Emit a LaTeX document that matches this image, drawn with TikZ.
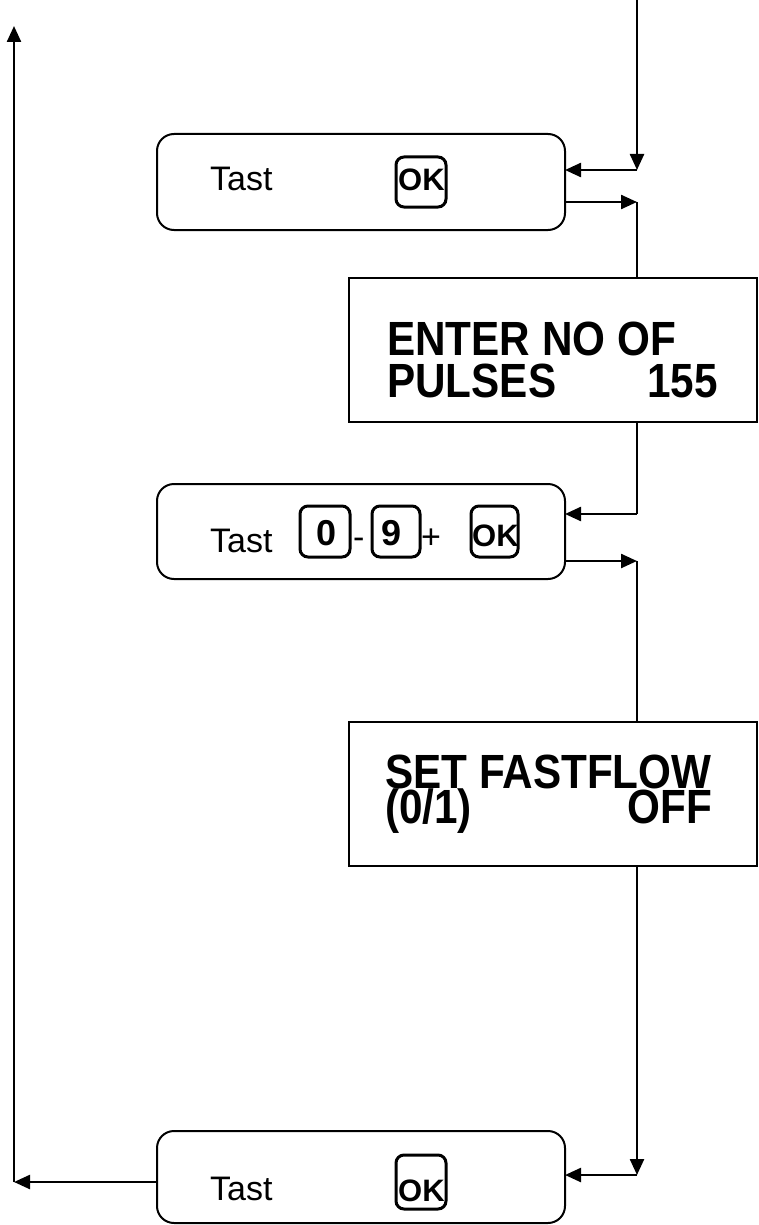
\documentclass[tikz,border=0pt]{standalone}
\usepackage{fontspec}
\setmainfont{Liberation Sans}
\newfontfamily\bigfont[FakeStretch=0.88]{Liberation Sans Bold}
\usetikzlibrary{arrows.meta}
\begin{document}
\begin{tikzpicture}[x=1pt,y=-1pt,
  tastbox/.style={draw, line width=2pt, rounded corners=17pt, minimum width=408pt, inner sep=0pt, outer sep=0pt},
  dispbox/.style={draw, line width=2pt, minimum width=408pt, minimum height=144pt, inner sep=0pt, outer sep=0pt},
  keybox/.style={draw, line width=3pt, rounded corners=8pt, inner sep=0pt, outer sep=0pt},
  tast/.style={font=\fontsize{34}{40}\selectfont, anchor=base west, inner sep=0pt},
  keytxt/.style={font=\fontsize{31}{36}\selectfont\bfseries, anchor=base west, inner sep=0pt},
  digit/.style={font=\fontsize{36}{40}\selectfont\bfseries, anchor=base, inner sep=0pt},
  big/.style={font=\bigfont\fontsize{48}{56}\selectfont, inner sep=0pt},
  conn/.style={line width=2.4pt},
  arr/.style={conn, -{Triangle[length=16pt,width=14pt]}}
]
\useasboundingbox (0,0) rectangle (758,1225);

% boxes
\node[tastbox, minimum height=96pt] (b1) at (361,182) {};
\node[dispbox] (enter) at (553,350) {};
\node[tastbox, minimum height=95pt] (b2) at (361,531.5) {};
\node[dispbox] (set) at (553,794) {};
\node[tastbox, minimum height=92pt] (b3) at (361,1177) {};

% box 1 contents
\node[tast] (t1) at (210,190) {Tast};
\node[keybox, minimum width=50pt, minimum height=50pt] (k1) at (421,182) {};
\node[keytxt] (o1) at (398,190) {OK};

% display 1
\node[big, anchor=base west] (e1) at (387,355) {ENTER NO OF};
\node[big, anchor=base west] (e2) at (387,397) {PULSES};
\node[big, anchor=base east] (e3) at (718,397) {155};

% box 2 contents
\node[tast] (t2) at (210,552) {Tast};
\node[keybox, minimum width=50pt, minimum height=51pt] (k0) at (325,531.5) {};
\node[digit] (d0) at (327,545) {0};
\node[tast] (mn) at (353,548) {-};
\node[keybox, minimum width=48pt, minimum height=51pt] (k9) at (396,531.5) {};
\node[digit] (d9) at (392,545) {9};
\node[tast] (pl) at (421,548) {+};
\node[keybox, minimum width=47pt, minimum height=51pt] (k2) at (494.5,531.5) {};
\node[keytxt] (o2) at (472,546) {OK};

% display 2
\node[big, anchor=base west] (s1) at (385,788) {SET FASTFLOW};
\node[big, anchor=base west] (s2) at (385,823) {(0/1)};
\node[big, anchor=base east] (s3) at (712,823) {OFF};

% box 3 contents
\node[tast] (t3) at (210,1200) {Tast};
\node[keybox, minimum width=50pt, minimum height=54pt] (k3) at (421,1182) {};
\node[keytxt] (o3) at (398,1201) {OK};

% connector points
\coordinate (top) at (637,0);
\coordinate (c1) at (637,170);
\coordinate (c2) at (637,202);
\coordinate (c3) at (637,514);
\coordinate (c4) at (637,561);
\coordinate (c5) at (637,1175);
\coordinate (c6) at (14,1182);
\coordinate (c7) at (14,26);

% connectors
\draw[arr] (top) -- (c1);
\draw[arr] (c1) -- (c1 -| b1.east);
\draw[arr] (c2 -| b1.east) -- (c2);
\draw[conn] (c2) -- (c2 |- enter.north);
\draw[conn] (c3 |- enter.south) -- (c3);
\draw[arr] (c3) -- (c3 -| b2.east);
\draw[arr] (c4 -| b2.east) -- (c4);
\draw[conn] (c4) -- (c4 |- set.north);
\draw[arr] (c5 |- set.south) -- (c5);
\draw[arr] (c5) -- (c5 -| b3.east);
\draw[arr] (c6 -| b3.west) -- (c6);
\draw[arr] (c6) -- (c7);
\end{tikzpicture}
\end{document}
